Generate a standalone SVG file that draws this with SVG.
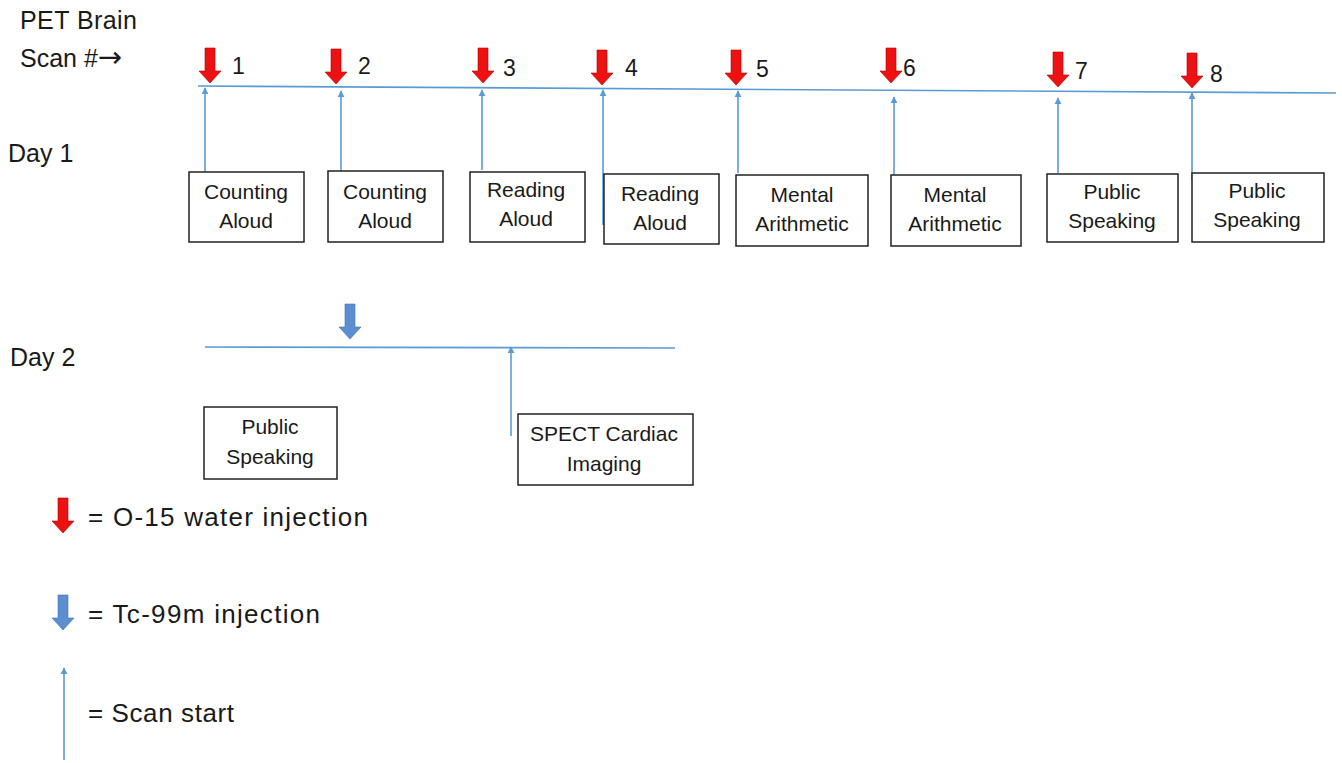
<svg xmlns="http://www.w3.org/2000/svg" width="1342" height="763" viewBox="0 0 1342 763">
<style>
text{font-family:"Liberation Sans",Arial,sans-serif;fill:#1a1a1a}
.lbl{font-size:25px}
.leg{font-size:26px}
.num{font-size:23px}
.box{fill:#fff;stroke:#222;stroke-width:1.5}
.bt{font-size:21px;text-anchor:middle}
.tl{stroke:#5b9bd5;stroke-width:1.6;fill:none}
.scan{stroke:#5b9bd5;stroke-width:1.6;fill:none;marker-end:url(#ah)}
.red{fill:#ee1111;stroke:#b50000;stroke-width:0.6}
.blu{fill:#5b8fd0;stroke:#3f72b0;stroke-width:0.6}
</style>
<defs>
<marker id="ah" viewBox="0 0 10 10" refX="9" refY="5" markerWidth="4.5" markerHeight="4.5" orient="auto" markerUnits="strokeWidth">
<path d="M0,0 L10,5 L0,10 z" fill="#5b9bd5"/>
</marker>
<path id="blk" d="M-5,-35 H5 V-12 H11 L0,0 L-11,-12 H-5 Z"/>
</defs>

<g id="labels">
<text class="lbl" x="20" y="29" textLength="117">PET Brain</text>
<text class="lbl" x="20" y="67">Scan #<tspan style="font-family:'DejaVu Sans',sans-serif;font-size:29px">→</tspan></text>
<text class="lbl" x="8" y="162">Day 1</text>
<text class="lbl" x="10" y="366">Day 2</text>
</g>

<g id="connectors">
<line class="tl" x1="198" y1="86" x2="1336" y2="93"/>
<line class="tl" x1="205" y1="347" x2="675" y2="348"/>
<line class="scan" x1="205" y1="175" x2="205" y2="88"/>
<line class="scan" x1="341" y1="180" x2="341" y2="91"/>
<line class="scan" x1="482" y1="170" x2="482" y2="90"/>
<line class="scan" x1="603" y1="225" x2="603" y2="90"/>
<line class="scan" x1="738" y1="173" x2="738" y2="91"/>
<line class="scan" x1="894" y1="187" x2="894" y2="97"/>
<line class="scan" x1="1058" y1="173" x2="1058" y2="98"/>
<line class="scan" x1="1192" y1="180" x2="1192" y2="93"/>
<line class="scan" x1="511" y1="436" x2="511" y2="347"/>
<line class="scan" x1="64" y1="760" x2="64" y2="668"/>
</g>

<g id="injections">
<use href="#blk" class="red" transform="translate(210,83)"/>
<use href="#blk" class="red" transform="translate(336,84)"/>
<use href="#blk" class="red" transform="translate(483,83)"/>
<use href="#blk" class="red" transform="translate(602,85)"/>
<use href="#blk" class="red" transform="translate(736,85)"/>
<use href="#blk" class="red" transform="translate(891,83)"/>
<use href="#blk" class="red" transform="translate(1058,87)"/>
<use href="#blk" class="red" transform="translate(1192,88)"/>
<use href="#blk" class="blu" transform="translate(350,339)"/>
</g>

<g id="scan-numbers">
<text class="num" x="232" y="74">1</text>
<text class="num" x="358" y="74">2</text>
<text class="num" x="503" y="76">3</text>
<text class="num" x="625" y="76">4</text>
<text class="num" x="756" y="77">5</text>
<text class="num" x="903" y="76">6</text>
<text class="num" x="1075" y="79">7</text>
<text class="num" x="1210" y="82">8</text>
</g>

<g id="box1"><rect class="box" x="189" y="172" width="115" height="70"/><text class="bt" x="246" y="199">Counting</text><text class="bt" x="246" y="228">Aloud</text></g>
<g id="box2"><rect class="box" x="328" y="171" width="115" height="71"/><text class="bt" x="385" y="199">Counting</text><text class="bt" x="385" y="228">Aloud</text></g>
<g id="box3"><rect class="box" x="470" y="172" width="115" height="70"/><text class="bt" x="526" y="197">Reading</text><text class="bt" x="526" y="226">Aloud</text></g>
<g id="box4"><rect class="box" x="604" y="174" width="115" height="70"/><text class="bt" x="660" y="201">Reading</text><text class="bt" x="660" y="230">Aloud</text></g>
<g id="box5"><rect class="box" x="736" y="175" width="132" height="71"/><text class="bt" x="802" y="202">Mental</text><text class="bt" x="802" y="231">Arithmetic</text></g>
<g id="box6"><rect class="box" x="891" y="175" width="130" height="71"/><text class="bt" x="955" y="202">Mental</text><text class="bt" x="955" y="231">Arithmetic</text></g>
<g id="box7"><rect class="box" x="1047" y="174" width="131" height="68"/><text class="bt" x="1112" y="199">Public</text><text class="bt" x="1112" y="228">Speaking</text></g>
<g id="box8"><rect class="box" x="1192" y="173" width="132" height="69"/><text class="bt" x="1257" y="198">Public</text><text class="bt" x="1257" y="227">Speaking</text></g>
<g id="box9"><rect class="box" x="204" y="407" width="133" height="72"/><text class="bt" x="270" y="434">Public</text><text class="bt" x="270" y="464">Speaking</text></g>
<g id="box10"><rect class="box" x="518" y="414" width="175" height="71"/><text class="bt" x="604" y="441">SPECT Cardiac</text><text class="bt" x="604" y="471">Imaging</text></g>

<g id="legend">
<use href="#blk" class="red" transform="translate(63,533)"/>
<text class="leg" x="88" y="526" textLength="280">= O-15 water injection</text>
<use href="#blk" class="blu" transform="translate(63,630)"/>
<text class="leg" x="88" y="623" textLength="232">= Tc-99m injection</text>
<text class="leg" x="88" y="722" textLength="146">= Scan start</text>
</g>
</svg>
